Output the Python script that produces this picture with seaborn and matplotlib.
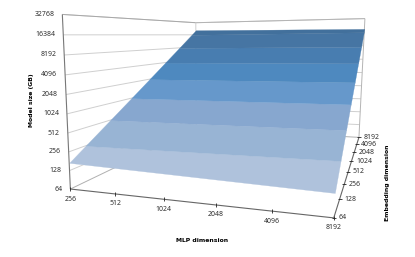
import numpy as np
import matplotlib
matplotlib.use("Agg")
import matplotlib.pyplot as plt
from mpl_toolkits.mplot3d.art3d import Poly3DCollection
import seaborn as sns

# Values
mlp_dims = [256, 512, 1024, 2048, 4096, 8192]
emb_dims = [64, 128, 256, 512, 1024, 2048, 4096, 8192]
size_ticks = [64, 128, 256, 512, 1024, 2048, 4096, 8192, 16384, 32768]
size_at_mlp_256 = [171, 340, 670, 1330, 2650, 5300, 10600, 21300]
size_at_mlp_8192 = [139, 285, 580, 1180, 2380, 4800, 9650, 19456]

band_colors = ["#AFC2DC", "#98B4D4", "#87A7CF", "#6698CB", "#4E89BF", "#487DB0", "#4675A3", "#42709C"]

W, H = 415, 257
x0, x1 = np.log2(mlp_dims[0]), np.log2(mlp_dims[-1])
y0, y1 = np.log2(emb_dims[0]), np.log2(emb_dims[-1])
z0, z1 = np.log2(size_ticks[0]), np.log2(size_ticks[-1])

# Points of the box as seen in the reference, used to fit the camera (pixel coords)
box_world = [(x0, y0, z0), (x0, y0, z1), (x0, y1, z1), (x0, y1, z0),
             (x1, y1, z1), (x1, y1, z0), (x1, y0, z0),
             (9, y0, z0), (10, y0, z0), (11, y0, z0), (12, y0, z0),
             (x1, 7, z0), (x1, 8, z0), (x1, 9, z0), (x1, 10, z0), (x1, 11, z0), (x1, 12, z0),
             (x0, y0, 8), (x0, y0, 10), (x0, y0, 12), (x0, y0, 14)]
box_pixel = [(71, 187), (62, 15), (196, 21), (196, 132),
             (365, 20), (358, 136), (333, 220),
             (115, 193), (164, 199), (216, 206), (272, 213),
             (340, 200), (344, 185), (348, 172), (352, 160), (355, 151), (357, 143),
             (69, 150), (67, 113), (65, 75), (63, 36)]


def fit_camera(world, pixel):
    rows = []
    for (x, y, z), (u, v) in zip(world, pixel):
        rows.append([x, y, z, 1, 0, 0, 0, 0, -u*x, -u*y, -u*z, -u])
        rows.append([0, 0, 0, 0, x, y, z, 1, -v*x, -v*y, -v*z, -v])
    return np.linalg.svd(np.array(rows, dtype=float))[2][-1].reshape(3, 4)


camera = fit_camera(box_world, box_pixel)


def to_pixel(x, y, z):
    u, v, w = camera @ np.array([x, y, z, 1.0])
    return u/w, v/w


sns.set_theme(style="white", font="Noto Sans")
fig = plt.figure(figsize=(W/100, H/100), dpi=100)
ax = fig.add_axes([0, 0, 1, 1], projection="3d")
ax.set_axis_off()
ax.computed_zorder = False


def get_proj():
    # image pixels -> display -> the axes' own 2D data coords
    flip = np.array([[1, 0, 0], [0, -1, H], [0, 0, 1]], dtype=float)
    p = ax.transData.inverted().get_matrix() @ flip @ camera
    return np.vstack([p[0], p[1], [0, 0, 1, 0], p[2]])


ax.get_proj = get_proj


def seg(a, b, color, lw=0.7, zorder=1):
    ax.plot([a[0], b[0]], [a[1], b[1]], [a[2], b[2]], color=color, lw=lw,
            zorder=zorder, clip_on=False, solid_capstyle="butt")


def label(x, y, z, s, dx, dy, ha):
    u, v = to_pixel(x, y, z)
    fig.text((u + dx)/W, 1 - (v + dy)/H, s, ha=ha, va="center", fontsize=5, color="#303030")


# walls
for v in size_ticks[1:]:
    z = np.log2(v)
    seg((x0, y0, z), (x0, y1, z), "#CFCFCF")
    seg((x0, y1, z), (x1, y1, z), "#CFCFCF")
seg((x0, y0, z1), (x0, y1, z1), "#A8A8A8")
seg((x0, y1, z1), (x1, y1, z1), "#B4B4B4")
seg((x0, y1, z0), (x0, y1, z1), "#CFCFCF")
seg((x1, y1, z0), (x1, y1, z1), "#B4B4B4")
seg((x0, y0, z0), (x0, y1, z0), "#B0B0B0")
seg((x0, y1, z0), (x1, y1, z0), "#B0B0B0")

# surface, one flat colour per octave of model size
y_data = np.log2(emb_dims)
z_left = np.log2(size_at_mlp_256)
z_right = np.log2(size_at_mlp_8192)
octaves = list(range(8, 15))


def edge(level):
    # where one size level crosses the two sides of the surface; None = surface border
    if level is None:
        return None
    return ((x0, np.interp(level, z_left, y_data), level),
            (x1, np.interp(level, z_right, y_data), level))


front = ((x0, y_data[0], z_left[0]), (x1, y_data[0], z_right[0]))
back = ((x0, y_data[-1], z_left[-1]), (x1, y_data[-1], z_right[-1]))
edges = [front] + [edge(o) for o in octaves] + [back]
for i in range(len(edges) - 1):
    (a, b), (d, c) = edges[i], edges[i+1]
    col = Poly3DCollection([[a, b, c, d]], facecolor=band_colors[i], edgecolor=band_colors[i],
                           linewidths=0.2, zorder=3, clip_on=False)
    ax.add_collection3d(col)

# axes
seg((x0, y0, z0), (x0, y0, z1), "#777777", lw=0.8, zorder=4)
seg((x0, y0, z0), (x1, y0, z0), "#666666", lw=0.8, zorder=4)
seg((x1, y0, z0), (x1, y1, z0), "#666666", lw=0.8, zorder=4)

for v in size_ticks:
    label(x0, y0, np.log2(v), str(v), -8, 0, "right")
for v in mlp_dims:
    x = np.log2(v)
    ax.plot([x], [y0], [z0], marker="|", ms=2.5, mew=0.6, color="#222222", zorder=5, clip_on=False)
    label(x, y0, z0, str(v), 0, 10, "center")
for v in emb_dims:
    y = np.log2(v)
    ax.plot([x1], [y], [z0], marker="_", ms=2.5, mew=0.6, color="#222222", zorder=5, clip_on=False)
    label(x1, y, z0, str(v), 4.5, 0, "left")

title_font = dict(ha="center", va="center", fontsize=4.4, fontweight="bold",
                  family="DejaVu Sans", color="black")
fig.text(31/W, 1 - 100/H, "Model size (GB)", rotation=90, **title_font)
fig.text(202/W, 1 - 240/H, "MLP dimension", **title_font)
fig.text(387/W, 1 - 183/H, "Embedding dimension", rotation=90, **title_font)

fig.savefig("out.png", dpi=100)
